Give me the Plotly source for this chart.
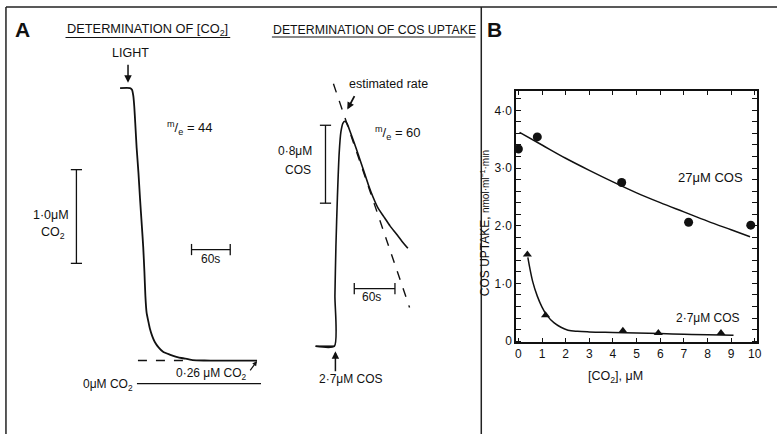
import plotly.graph_objects as go

FONT = "Liberation Sans, Arial, sans-serif"
BLACK = "#111111"

# ---------- Panel B data ----------
co2_circles = [0.0, 0.8, 4.37, 7.2, 9.83]
cos_circles = [3.33, 3.54, 2.75, 2.06, 2.01]
fit27_x = [0.05, 1, 2, 3, 4, 5, 6, 7, 8, 9, 9.8]
fit27_y = [3.62, 3.40, 3.17, 2.96, 2.76, 2.57, 2.40, 2.24, 2.08, 1.93, 1.81]

co2_tri = [0.38, 1.15, 4.42, 5.92, 8.57]
cos_tri = [1.50, 0.45, 0.18, 0.14, 0.14]
fit2_x = [0.4, 0.6, 0.8, 1.0, 1.2, 1.5, 1.8, 2.1, 2.5, 3, 4, 5, 6, 7, 8, 9.1]
fit2_y = [1.45, 1.04, 0.78, 0.59, 0.45, 0.32, 0.24, 0.19, 0.17, 0.16, 0.15, 0.14, 0.13, 0.12, 0.11, 0.10]

y_tickvals = [0, 1, 2, 3, 4]
y_ticktext = ["0", "1·0", "2·0", "3·0", "4·0"]
x_tickvals = list(range(11))
x_ticktext = [str(v) for v in x_tickvals]

# ---------- Panel A traced recordings (drawing coordinates) ----------
co2_trace_x = [120, 130, 132, 133.3, 134.3, 135.3, 136.7, 138.5, 140, 142, 143.3, 144.5, 145.5,
               146.7, 148.5, 150, 152.5, 155, 159, 163.3, 170, 176.7, 185, 193, 205, 216.7, 235, 258]
co2_trace_y = [89.3, 89.3, 91, 97, 108, 125, 150, 175, 200, 230, 250, 275, 300,
               316.7, 326, 333, 341, 346.7, 352.5, 356.7, 359.5, 361.7, 363.5, 365, 365.5, 365.7, 365.7, 365.7]
co2_extrap_x = [138, 190]
co2_extrap_y = [365.5, 365.5]
co2_zero_x = [137, 262]
co2_zero_y = [389, 389]

cos_trace_x = [317, 336, 336.5, 337.5, 339, 340.8, 342.5, 344.5, 346.5, 348.8, 351.7, 356, 360, 365, 370,
               375, 380, 386.7, 392, 398.3, 404, 410]
cos_trace_y = [351, 351, 300, 250, 200, 155, 134, 125, 123, 125.5, 133, 145, 156.7, 171.5, 186.7,
               200, 211, 221, 229, 237, 244.5, 251.7]
rate_x = [335, 411.7]
rate_y = [85, 311.7]

fig = go.Figure()

# Panel A drawing (pixel-like coordinate system on x2/y2)
def a_line(xs, ys, dash="solid", width=1.6):
    fig.add_trace(go.Scatter(x=xs, y=ys, xaxis="x2", yaxis="y2", mode="lines",
                             line=dict(color=BLACK, width=width, dash=dash, shape="spline", smoothing=0.6),
                             hoverinfo="skip", showlegend=False))

def a_bar(xs, ys):
    fig.add_trace(go.Scatter(x=xs, y=ys, xaxis="x2", yaxis="y2", mode="lines+markers",
                             line=dict(color=BLACK, width=1.3),
                             marker=dict(symbol="line-ew" if xs[0] == xs[1] else "line-ns",
                                         size=8, line=dict(color=BLACK, width=1.3)),
                             hoverinfo="skip", showlegend=False))

a_line(co2_trace_x, co2_trace_y, width=1.8)
a_line(co2_extrap_x, co2_extrap_y, dash="dash", width=1.3)
a_line(co2_zero_x, co2_zero_y, width=1.2)
a_line(cos_trace_x, cos_trace_y, width=1.6)
a_line(rate_x, rate_y, dash="dash", width=1.4)
a_line([65, 231], [38, 38], width=1.2)
a_line([273, 478], [37.5, 37.5], width=1.2)
a_line([317, 336], [351, 351], width=1.6)

a_bar([76, 76], [172, 267])
a_bar([192, 231], [253, 253])
a_bar([327, 327], [127, 206])
a_bar([356, 397], [292.7, 292.7])

# Panel B
fig.add_trace(go.Scatter(x=fit27_x, y=fit27_y, mode="lines",
                         line=dict(color=BLACK, width=1.5, shape="spline"),
                         hoverinfo="skip", showlegend=False))
fig.add_trace(go.Scatter(x=co2_circles, y=cos_circles, mode="markers",
                         marker=dict(symbol="circle", size=9, color=BLACK), showlegend=False))
fig.add_trace(go.Scatter(x=fit2_x, y=fit2_y, mode="lines",
                         line=dict(color=BLACK, width=1.5, shape="spline"),
                         hoverinfo="skip", showlegend=False))
fig.add_trace(go.Scatter(x=co2_tri, y=cos_tri, mode="markers",
                         marker=dict(symbol="triangle-up", size=8, color=BLACK), showlegend=False))

ann = []
def txt(x, y, s, size=12, **kw):
    d = dict(x=x, y=y, xref="x2", yref="y2", text=s, showarrow=False,
             font=dict(family=FONT, size=size, color=BLACK))
    d.update(kw)
    ann.append(d)

def arrow(x, y, ax, ay, head=2, width=1.5, size=1):
    ann.append(dict(x=x, y=y, ax=ax, ay=ay, xref="x2", yref="y2", axref="x2", ayref="y2",
                    text="", showarrow=True, arrowhead=head, arrowsize=size, arrowwidth=width,
                    arrowcolor=BLACK))

txt(22, 30, "<b>A</b>", size=21)
txt(497, 30, "<b>B</b>", size=21)
txt(148, 30, "DETERMINATION OF [CO<sub>2</sub>]", size=12.8)
txt(376, 30, "DETERMINATION OF COS UPTAKE", size=12.3)
txt(130, 54, "LIGHT", size=12.5)
arrow(128, 84, 128, 64)
txt(190, 130, "<sup>m</sup>/<sub>e</sub> = 44", size=13)
txt(50, 218, "1·0μM", size=12.5)
txt(52, 236, "CO<sub>2</sub>", size=12.5)
txt(211, 263, "60s", size=12)
txt(212, 379, "0·26 μM CO<sub>2</sub>", size=12)
arrow(258, 366, 250, 377, head=2, width=1.2, size=0.8)
txt(108, 390, "0μM CO<sub>2</sub>", size=12)

txt(390, 85, "estimated rate", size=12.5)
arrow(349, 111, 357, 96, head=2, width=1.8, size=0.8)
txt(400, 135, "<sup>m</sup>/<sub>e</sub> = 60", size=13)
txt(296, 153, "0·8μM", size=12)
txt(299, 172, "COS", size=12)
txt(373, 301, "60s", size=12)
arrow(337, 356, 337, 378)
txt(353, 384, "2·7μM COS", size=12)

txt(715, 180, "27μM COS", size=13)
txt(712, 322, "2·7μM COS", size=12)
txt(488, 226, "COS UPTAKE, <span style='font-size:10px'>nmol·ml<sup>−1</sup>·min</span>", size=12,
    textangle=-90)
txt(619, 382, "[CO<sub>2</sub>], μM", size=12.5)

shapes = []
def frame(x0, y0, x1, y1):
    shapes.append(dict(type="line", xref="paper", yref="paper",
                       x0=x0 / 782, y0=1 - y0 / 440, x1=x1 / 782, y1=1 - y1 / 440,
                       line=dict(color="#222222", width=1.5)))
frame(5, 7, 782, 7)
frame(5, 7, 5, 440)
frame(484, 7, 484, 440)

axis_common = dict(showline=True, linecolor=BLACK, linewidth=1.5, mirror="ticks",
                   ticks="inside", ticklen=5, tickwidth=1.3, tickcolor=BLACK,
                   showgrid=False, zeroline=False,
                   tickfont=dict(family=FONT, size=12, color=BLACK))

fig.update_layout(
    width=782, height=440,
    margin=dict(l=0, r=0, t=0, b=0),
    paper_bgcolor="white", plot_bgcolor="rgba(0,0,0,0)",
    showlegend=False,
    xaxis=dict(domain=[519 / 782, 762 / 782], range=[-0.1, 10.1],
               tickvals=x_tickvals, ticktext=x_ticktext, **axis_common),
    yaxis=dict(domain=[1 - 347 / 440, 1 - 92 / 440], range=[-0.02, 4.34],
               tickvals=y_tickvals, ticktext=y_ticktext,
               minor=dict(dtick=0.2, ticks="inside", ticklen=5, tickcolor=BLACK, tickwidth=1.2),
               **axis_common),
    xaxis2=dict(domain=[0, 1], range=[0, 782], visible=False, anchor="y2"),
    yaxis2=dict(domain=[0, 1], range=[440, 0], visible=False, anchor="x2"),
    annotations=ann,
    shapes=shapes,
    font=dict(family=FONT, color=BLACK),
)

fig.write_html("out.html")
